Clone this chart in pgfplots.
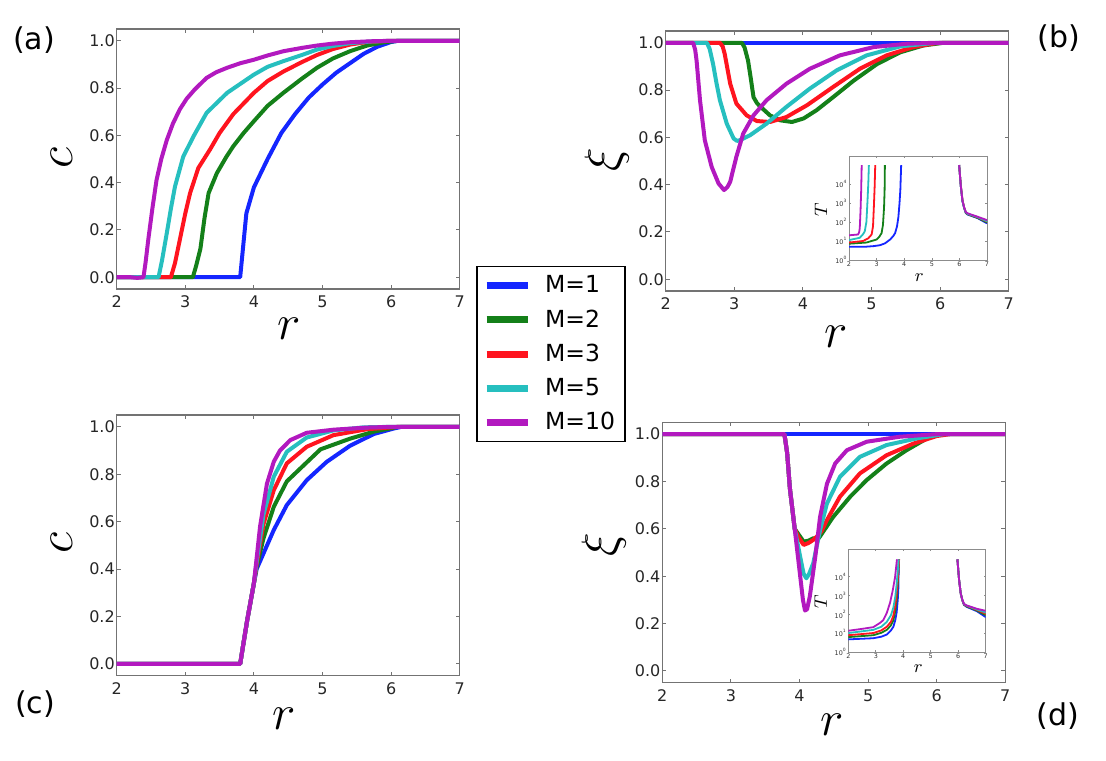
\documentclass[border=0pt]{standalone}
\usepackage{fontspec}
\setmainfont{DejaVu Sans}
\usepackage{pgfplots}
\pgfplotsset{compat=1.18}
\definecolor{colB}{rgb}{0.08,0.15,1}
\definecolor{colG}{rgb}{0.08,0.5,0.1}
\definecolor{colR}{rgb}{1,0.08,0.12}
\definecolor{colC}{rgb}{0.15,0.75,0.75}
\definecolor{colM}{rgb}{0.7,0.1,0.75}
\pgfplotsset{
  mainax/.style={
    scale only axis, width=171.5pt, height=130pt, anchor=south west,
    xmin=2, xmax=7, ymin=-0.05, ymax=1.05,
    xtick={2,3,4,5,6,7}, ytick={0,0.2,0.4,0.6,0.8,1},
    /pgf/number format/assume math mode=true,
    yticklabel style={/pgf/number format/fixed, /pgf/number format/fixed zerofill, /pgf/number format/precision=1, inner xsep=0.8pt},
    tick align=inside, major tick length=2pt,
    axis line style={black!55, line width=0.6pt},
    every tick/.style={black!55, line width=0.5pt},
    tick label style={font=\fontsize{8}{9}\selectfont, text=black!85},
    label style={font=\fontsize{26}{30}\selectfont},
    every axis plot/.append style={line width=2pt, line join=round},
  },
  insetax/.style={
    scale only axis, width=69pt, height=52pt, anchor=south west,
    xmin=2, xmax=7, ymin=1, ymax=3e5,
    xtick={2,3,4,5,6,7}, ytick={1,10,100,1000,10000},
    /pgf/number format/assume math mode=true,
    xticklabels={2,3,4,5,6,7},
    yticklabels={10\textsuperscript{0},10\textsuperscript{1},10\textsuperscript{2},10\textsuperscript{3},10\textsuperscript{4}},
    yminorticks=false,
    tick align=inside, major tick length=1pt,
    axis line style={black!45, line width=0.4pt},
    every tick/.style={black!45, line width=0.3pt},
    tick label style={font=\fontsize{3.2}{3.6}\selectfont, text=black!80, inner sep=0.6pt},
    label style={font=\fontsize{9.5}{11}\selectfont},
    axis background/.style={fill=white},
    every axis plot/.append style={line width=0.9pt, line join=round},
    unbounded coords=jump,
  },
}
\begin{document}
\begin{tikzpicture}
\path[use as bounding box] (0,0) rectangle (553pt,380pt);

% ---------------- (a)
\begin{axis}[mainax, at={(58.35pt,235.5pt)},
  xlabel={$r$}, ylabel={$c$},
  xlabel style={at={(axis description cs:0.502,-0.154)}, anchor=center},
  ylabel style={at={(axis description cs:-0.159,0.504)}, anchor=center},
  legend style={at={(1.0487,0.0885)}, anchor=north west, draw=black, line width=0.7pt, fill=white,
    font=\fontsize{11.75}{14}\selectfont, inner xsep=3pt, inner ysep=2.5pt,
    row sep=2.9pt, column sep=5pt, nodes={inner sep=2pt, text depth=0.15em}},
  legend cell align=left,
  legend image code/.code={\draw[line width=3.5pt] (0pt,0pt) -- (20.5pt,0pt);},
]
\addplot[colB] coordinates {(2,0) (3.80,0) (3.85,0.15) (3.89,0.27) (4.0,0.38) (4.2,0.50) (4.4,0.61) (4.6,0.69) (4.8,0.76) (5.0,0.815) (5.2,0.865) (5.4,0.905) (5.6,0.945) (5.8,0.975) (6.0,0.995) (6.1,1) (7,1)};
\addplot[colG] coordinates {(2,0) (3.11,0) (3.16,0.05) (3.22,0.12) (3.28,0.25) (3.34,0.356) (3.46,0.44) (3.6,0.51) (3.7,0.554) (3.85,0.61) (4.0,0.66) (4.2,0.725) (4.43,0.78) (4.7,0.84) (4.92,0.886) (5.15,0.925) (5.4,0.956) (5.65,0.98) (5.9,0.994) (6.1,1) (7,1)};
\addplot[colR] coordinates {(2,0) (2.79,0) (2.85,0.06) (2.92,0.158) (3.0,0.27) (3.07,0.356) (3.19,0.462) (3.36,0.54) (3.5,0.61) (3.7,0.69) (4.0,0.78) (4.2,0.83) (4.43,0.87) (4.7,0.91) (4.92,0.94) (5.15,0.965) (5.4,0.984) (5.65,0.995) (5.9,0.999) (6.05,1) (7,1)};
\addplot[colC] coordinates {(2,0) (2.61,0) (2.66,0.07) (2.73,0.186) (2.79,0.29) (2.85,0.384) (2.97,0.51) (3.12,0.596) (3.31,0.695) (3.61,0.78) (4.0,0.857) (4.2,0.89) (4.43,0.914) (4.7,0.94) (4.92,0.963) (5.15,0.978) (5.4,0.99) (5.7,0.997) (6.0,1) (7,1)};
\addplot[colM] coordinates {(2,0) (2.2,0) (2.3,-0.003) (2.39,0) (2.42,0.06) (2.46,0.158) (2.52,0.29) (2.58,0.41) (2.65,0.5) (2.73,0.58) (2.82,0.65) (2.92,0.71) (3.02,0.755) (3.14,0.795) (3.31,0.843) (3.45,0.867) (3.61,0.886) (3.8,0.905) (4.0,0.92) (4.2,0.938) (4.43,0.956) (4.7,0.97) (4.92,0.98) (5.15,0.988) (5.4,0.994) (5.7,0.998) (6.0,1) (7,1)};
\legend{M=1,M=2,M=3,M=5,M=10}
\end{axis}

% ---------------- (b)
\begin{axis}[mainax, at={(332.85pt,234.5pt)},
  xlabel={$r$}, ylabel={$\xi$},
  xlabel style={at={(axis description cs:0.497,-0.177)}, anchor=center},
  ylabel style={at={(axis description cs:-0.171,0.504)}, anchor=center},
]
\addplot[colB] coordinates {(2,1) (7,1)};
\addplot[colG] coordinates {(2,1) (3.11,1) (3.15,0.98) (3.20,0.925) (3.24,0.85) (3.28,0.77) (3.33,0.745) (3.38,0.73) (3.52,0.693) (3.67,0.672) (3.84,0.665) (4.01,0.68) (4.2,0.715) (4.44,0.77) (4.74,0.84) (5.08,0.91) (5.42,0.96) (5.76,0.989) (6.05,1) (7,1)};
\addplot[colR] coordinates {(2,1) (2.79,1) (2.83,0.985) (2.86,0.953) (2.9,0.89) (2.94,0.827) (3.03,0.743) (3.18,0.693) (3.33,0.669) (3.52,0.665) (3.76,0.686) (4.06,0.736) (4.44,0.813) (4.83,0.89) (5.22,0.947) (5.61,0.982) (5.95,0.999) (6.1,1) (7,1)};
\addplot[colC] coordinates {(2,1) (2.6,1) (2.64,0.975) (2.69,0.911) (2.74,0.83) (2.79,0.757) (2.89,0.658) (2.99,0.595) (3.04,0.585) (3.08,0.588) (3.23,0.609) (3.47,0.658) (3.76,0.729) (4.1,0.806) (4.49,0.883) (4.93,0.947) (5.42,0.985) (5.9,0.999) (6.05,1) (7,1)};
\addplot[colM] coordinates {(2,1) (2.4,1) (2.43,0.97) (2.45,0.925) (2.5,0.757) (2.57,0.588) (2.67,0.475) (2.77,0.405) (2.85,0.377) (2.9,0.39) (2.94,0.412) (3.03,0.518) (3.13,0.616) (3.28,0.693) (3.47,0.757) (3.76,0.827) (4.1,0.89) (4.54,0.947) (5.03,0.982) (5.51,0.996) (5.9,1) (7,1)};
\end{axis}

% inset (b)
\begin{semilogyaxis}[insetax, at={(424.5pt,250pt)},
  xlabel={$r$}, ylabel={$T$},
  xlabel style={at={(axis description cs:0.51,-0.167)}, anchor=center},
  ylabel style={at={(axis description cs:-0.204,0.48)}, anchor=center},
]
\addplot[colB] coordinates {(2,5) (2.6,5) (2.9,5.4) (3.12,6) (3.3,7.5) (3.49,12) (3.6,18) (3.67,26) (3.74,60) (3.79,186) (3.83,1000) (3.86,5000) (3.89,100000) (4.5,nan) (5.99,100000) (6.05,8000) (6.11,1300) (6.17,550) (6.23,300) (6.29,250) (6.66,160) (7,85)};
\addplot[colG] coordinates {(2,7.2) (2.63,8.3) (3.0,12) (3.1,17) (3.18,26) (3.23,70) (3.27,600) (3.29,5000) (3.30,100000) (4.5,nan) (5.99,100000) (6.05,8000) (6.11,1300) (6.17,560) (6.23,310) (6.29,260) (6.66,165) (7,95)};
\addplot[colR] coordinates {(2,8.3) (2.51,10) (2.7,14) (2.82,22) (2.87,60) (2.90,600) (2.93,8000) (2.95,100000) (4.5,nan) (5.99,100000) (6.05,9000) (6.11,1500) (6.17,600) (6.23,330) (6.29,270) (6.66,175) (7,105)};
\addplot[colC] coordinates {(2,11.2) (2.39,14.8) (2.5,22) (2.57,32) (2.63,100) (2.67,1300) (2.70,12000) (2.72,100000) (4.5,nan) (5.99,100000) (6.05,8000) (6.11,1300) (6.17,580) (6.23,330) (6.29,275) (6.66,180) (7,110)};
\addplot[colM] coordinates {(2,20) (2.33,22) (2.37,30) (2.39,48) (2.42,500) (2.44,4300) (2.46,100000) (4.5,nan) (5.99,100000) (6.05,8000) (6.11,1300) (6.17,600) (6.23,340) (6.29,290) (6.66,190) (7,126)};
\end{semilogyaxis}

% ---------------- (c)
\begin{axis}[mainax, at={(58.35pt,42.15pt)}, height=130.35pt,
  xlabel={$r$}, ylabel={$c$},
  xlabel style={at={(axis description cs:0.488,-0.164)}, anchor=center},
  ylabel style={at={(axis description cs:-0.159,0.509)}, anchor=center},
]
\addplot[colB] coordinates {(2,0) (3.8,0) (3.85,0.09) (3.9,0.18) (4.0,0.34) (4.04,0.40) (4.14,0.466) (4.29,0.565) (4.48,0.67) (4.77,0.775) (5.06,0.852) (5.4,0.92) (5.75,0.97) (6.04,0.993) (6.15,1) (7,1)};
\addplot[colG] coordinates {(2,0) (3.8,0) (3.85,0.09) (3.9,0.18) (4.0,0.34) (4.04,0.41) (4.14,0.53) (4.29,0.663) (4.48,0.77) (4.77,0.85) (4.97,0.905) (5.4,0.95) (5.75,0.98) (6.1,1) (7,1)};
\addplot[colR] coordinates {(2,0) (3.8,0) (3.85,0.09) (3.9,0.18) (4.0,0.34) (4.04,0.42) (4.14,0.59) (4.29,0.733) (4.48,0.846) (4.77,0.916) (5.16,0.965) (5.65,0.99) (6.1,1) (7,1)};
\addplot[colC] coordinates {(2,0) (3.8,0) (3.85,0.09) (3.9,0.18) (4.0,0.34) (4.04,0.43) (4.14,0.63) (4.29,0.79) (4.48,0.895) (4.77,0.955) (5.16,0.985) (5.6,0.998) (6.0,1) (7,1)};
\addplot[colM] coordinates {(2,0) (3.8,0) (3.85,0.09) (3.9,0.18) (4.0,0.34) (4.09,0.58) (4.19,0.76) (4.29,0.853) (4.38,0.9) (4.53,0.944) (4.77,0.975) (5.16,0.988) (5.65,0.997) (6.0,1) (7,1)};
\end{axis}

% ---------------- (d)
\begin{axis}[mainax, at={(331.15pt,38.65pt)}, height=130.2pt,
  xlabel={$r$}, ylabel={$\xi$},
  xlabel style={at={(axis description cs:0.494,-0.16)}, anchor=center},
  ylabel style={at={(axis description cs:-0.17,0.529)}, anchor=center},
]
\addplot[colB] coordinates {(2,1) (7,1)};
\addplot[colG] coordinates {(2,1) (3.78,1) (3.82,0.92) (3.86,0.77) (3.93,0.6) (3.99,0.575) (4.06,0.546) (4.13,0.55) (4.20,0.56) (4.28,0.56) (4.35,0.59) (4.49,0.65) (4.74,0.736) (4.98,0.806) (5.27,0.876) (5.56,0.932) (5.90,0.989) (6.1,1) (7,1)};
\addplot[colR] coordinates {(2,1) (3.78,1) (3.82,0.92) (3.86,0.77) (3.93,0.6) (3.98,0.567) (4.06,0.532) (4.13,0.54) (4.20,0.553) (4.28,0.575) (4.32,0.59) (4.40,0.637) (4.59,0.736) (4.88,0.834) (5.27,0.911) (5.66,0.96) (6.0,0.992) (6.2,1) (7,1)};
\addplot[colC] coordinates {(2,1) (3.78,1) (3.82,0.92) (3.86,0.77) (3.93,0.6) (4.01,0.482) (4.06,0.41) (4.10,0.391) (4.14,0.41) (4.20,0.454) (4.30,0.595) (4.40,0.707) (4.59,0.82) (4.88,0.904) (5.27,0.954) (5.71,0.982) (6.1,1) (7,1)};
\addplot[colM] coordinates {(2,1) (3.78,1) (3.82,0.92) (3.86,0.77) (3.93,0.6) (4.01,0.40) (4.05,0.3) (4.08,0.255) (4.11,0.26) (4.15,0.314) (4.23,0.482) (4.30,0.651) (4.40,0.79) (4.52,0.876) (4.69,0.932) (4.98,0.968) (5.46,0.989) (6.0,1) (7,1)};
\end{axis}

% inset (d)
\begin{semilogyaxis}[insetax, at={(424.15pt,54pt)}, height=51.5pt, width=68.7pt,
  xlabel={$r$}, ylabel={$T$},
  xlabel style={at={(axis description cs:0.51,-0.165)}, anchor=center},
  ylabel style={at={(axis description cs:-0.2,0.487)}, anchor=center},
]
\addplot[colB] coordinates {(2,4.7) (2.91,5.4) (3.2,6.5) (3.40,8.5) (3.55,14) (3.64,22) (3.71,50) (3.76,130) (3.80,600) (3.82,2000) (3.84,85000) (4.5,nan) (5.97,85000) (6.03,7000) (6.09,1300) (6.15,550) (6.21,320) (6.31,250) (6.67,150) (7,72)};
\addplot[colG] coordinates {(2,6.2) (2.91,7.8) (3.2,10.5) (3.40,15) (3.55,26) (3.64,49) (3.71,150) (3.76,600) (3.80,4000) (3.845,85000) (4.5,nan) (5.97,85000) (6.03,7000) (6.09,1300) (6.15,560) (6.21,330) (6.31,265) (6.67,162) (7,90)};
\addplot[colR] coordinates {(2,7.8) (2.91,10.2) (3.2,14) (3.40,22) (3.55,40) (3.64,87) (3.71,300) (3.76,1300) (3.80,8000) (3.85,85000) (4.5,nan) (5.97,85000) (6.03,7000) (6.09,1300) (6.15,570) (6.21,340) (6.31,280) (6.67,175) (7,107)};
\addplot[colC] coordinates {(2,10.2) (2.91,15) (3.2,22) (3.40,40) (3.55,90) (3.64,230) (3.71,900) (3.76,4300) (3.80,20000) (3.835,85000) (4.5,nan) (5.97,85000) (6.03,7000) (6.09,1300) (6.15,580) (6.21,350) (6.31,290) (6.67,185) (7,125)};
\addplot[colM] coordinates {(2,13.5) (2.5,17) (2.91,21) (3.15,35) (3.27,49) (3.4,120) (3.52,420) (3.62,2000) (3.70,9300) (3.77,85000) (4.5,nan) (5.97,85000) (6.03,7000) (6.09,1300) (6.15,600) (6.21,360) (6.31,300) (6.67,200) (7,155)};
\end{semilogyaxis}

% panel labels
\node[font=\fontsize{15}{18}\selectfont] at (17pt,360pt) {(a)};
\node[font=\fontsize{15}{18}\selectfont] at (529.5pt,361pt) {(b)};
\node[font=\fontsize{15}{18}\selectfont] at (17.5pt,28pt) {(c)};
\node[font=\fontsize{15}{18}\selectfont] at (529pt,22pt) {(d)};
\end{tikzpicture}
\end{document}
